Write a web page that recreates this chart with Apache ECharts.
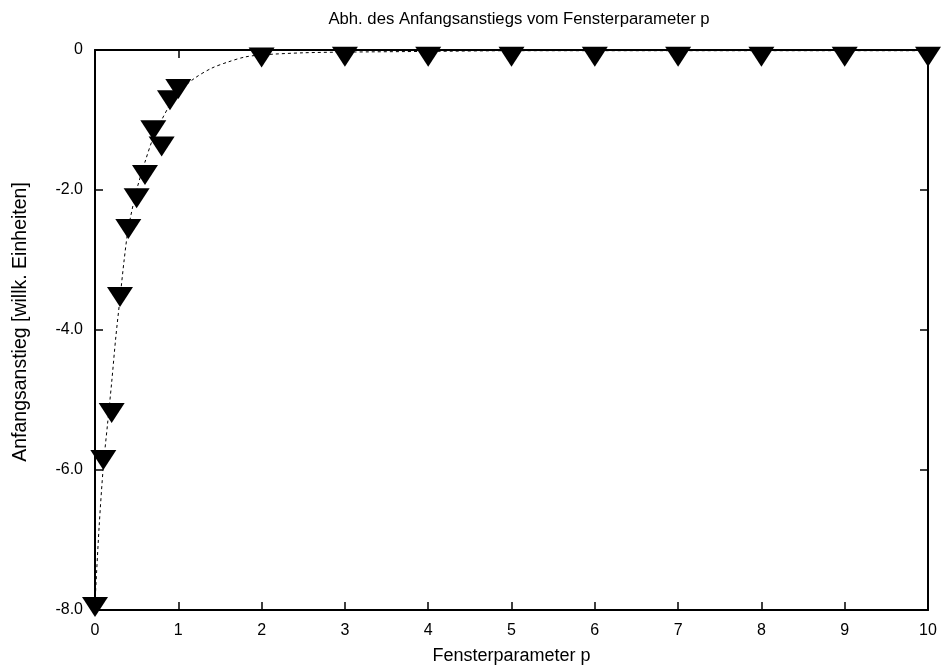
<!DOCTYPE html>
<html>
<head>
<meta charset="utf-8">
<script src="https://cdn.jsdelivr.net/npm/echarts@6/dist/echarts.min.js"></script>
<style>html,body{margin:0;padding:0;background:#fff;}#c{width:943px;height:666px;}</style>
</head>
<body>
<div id="c"></div>
<script>
// measured points (Fensterparameter p, Anfangsanstieg)
var pointX = [0, 0.1, 0.2, 0.3, 0.4, 0.5, 0.6, 0.7, 0.8, 0.9, 1.0, 2, 3, 4, 5, 6, 7, 8, 9, 10];
var pointY = [-7.9, -5.8, -5.13, -3.47, -2.5, -2.06, -1.73, -1.09, -1.32, -0.66, -0.5, -0.05, -0.04, -0.04, -0.04, -0.04, -0.04, -0.04, -0.04, -0.04];
// dashed fit curve
var fitX = [0, 0.05, 0.1, 0.15, 0.2, 0.25, 0.3, 0.35, 0.4, 0.5, 0.6, 0.7, 0.8, 0.9, 1.0, 1.2, 1.4, 1.6, 1.8, 2.0, 2.5, 3, 4, 5, 6, 7, 8, 9, 10];
var fitY = [-7.9, -6.8, -5.95, -5.35, -4.75, -4.1, -3.55, -3.0, -2.55, -2.0, -1.6, -1.25, -1.0, -0.78, -0.6, -0.4, -0.26, -0.17, -0.1, -0.07, -0.04, -0.03, -0.02, -0.01, -0.01, -0.01, -0.01, -0.01, -0.01];
var xTicks = [0, 1, 2, 3, 4, 5, 6, 7, 8, 9, 10];
var yTicks = [0, -2, -4, -6, -8];

var titleText = 'Abh. des Anfangsanstiegs vom Fensterparameter p';
var xName = 'Fensterparameter p';
var yName = 'Anfangsanstieg [willk. Einheiten]';

var font = "'Liberation Sans', Arial, Helvetica, sans-serif";
var chart = echarts.init(document.getElementById('c'), null, {renderer: 'canvas'});

function zip(a, b) { return a.map(function (v, i) { return [v, b[i]]; }); }

var frameLine = {show: true, onZero: false, lineStyle: {color: '#000', width: 2}};
var tickIn = {show: true, inside: true, length: 8, lineStyle: {color: '#000', width: 1.5}};

chart.setOption({
  animation: false,
  backgroundColor: '#fff',
  title: {
    text: titleText, left: 514, top: 6, textAlign: 'center',
    textStyle: {fontFamily: font, fontSize: 16.7, fontWeight: 'normal', color: '#000'}
  },
  grid: {left: 95, right: 15, top: 50, bottom: 56, containLabel: false, outerBoundsMode: 'none'},
  xAxis: [{
    type: 'value', min: xTicks[0], max: xTicks[xTicks.length - 1], interval: 1,
    name: xName, nameLocation: 'middle', nameGap: 37,
    nameTextStyle: {fontFamily: font, fontSize: 18, color: '#000'},
    axisLine: frameLine, axisTick: tickIn, splitLine: {show: false},
    axisLabel: {fontFamily: font, fontSize: 16, color: '#000', margin: 13}
  }, {
    type: 'value', position: 'top', min: xTicks[0], max: xTicks[xTicks.length - 1], interval: 1,
    axisLine: frameLine, axisTick: tickIn, splitLine: {show: false}, axisLabel: {show: false}
  }],
  yAxis: [{
    type: 'value', min: yTicks[yTicks.length - 1], max: yTicks[0], interval: 2,
    name: yName, nameLocation: 'middle', nameGap: 64, nameRotate: 90,
    nameTextStyle: {fontFamily: font, fontSize: 19.5, color: '#000', padding: [0, 0, 0, 16]},
    axisLine: frameLine, axisTick: tickIn, splitLine: {show: false},
    axisLabel: {fontFamily: font, fontSize: 16, color: '#000', margin: 12,
      formatter: function (v) { return v === 0 ? '0' : v.toFixed(1); }}
  }, {
    type: 'value', position: 'right', min: yTicks[yTicks.length - 1], max: yTicks[0], interval: 2,
    axisLine: frameLine, axisTick: tickIn, splitLine: {show: false}, axisLabel: {show: false}
  }],
  series: [{
    type: 'line', data: zip(fitX, fitY), smooth: 0.3, showSymbol: false, symbol: 'none',
    lineStyle: {color: '#000', width: 1, type: [3, 3]}, clip: false, z: 2
  }, {
    type: 'scatter', data: zip(pointX, pointY),
    symbol: 'path://M0,0 L26,0 L13,20 Z', symbolSize: [26, 20], symbolOffset: [0, 4],
    itemStyle: {color: '#000', opacity: 1}, clip: false, z: 3
  }]
});
</script>
</body>
</html>
